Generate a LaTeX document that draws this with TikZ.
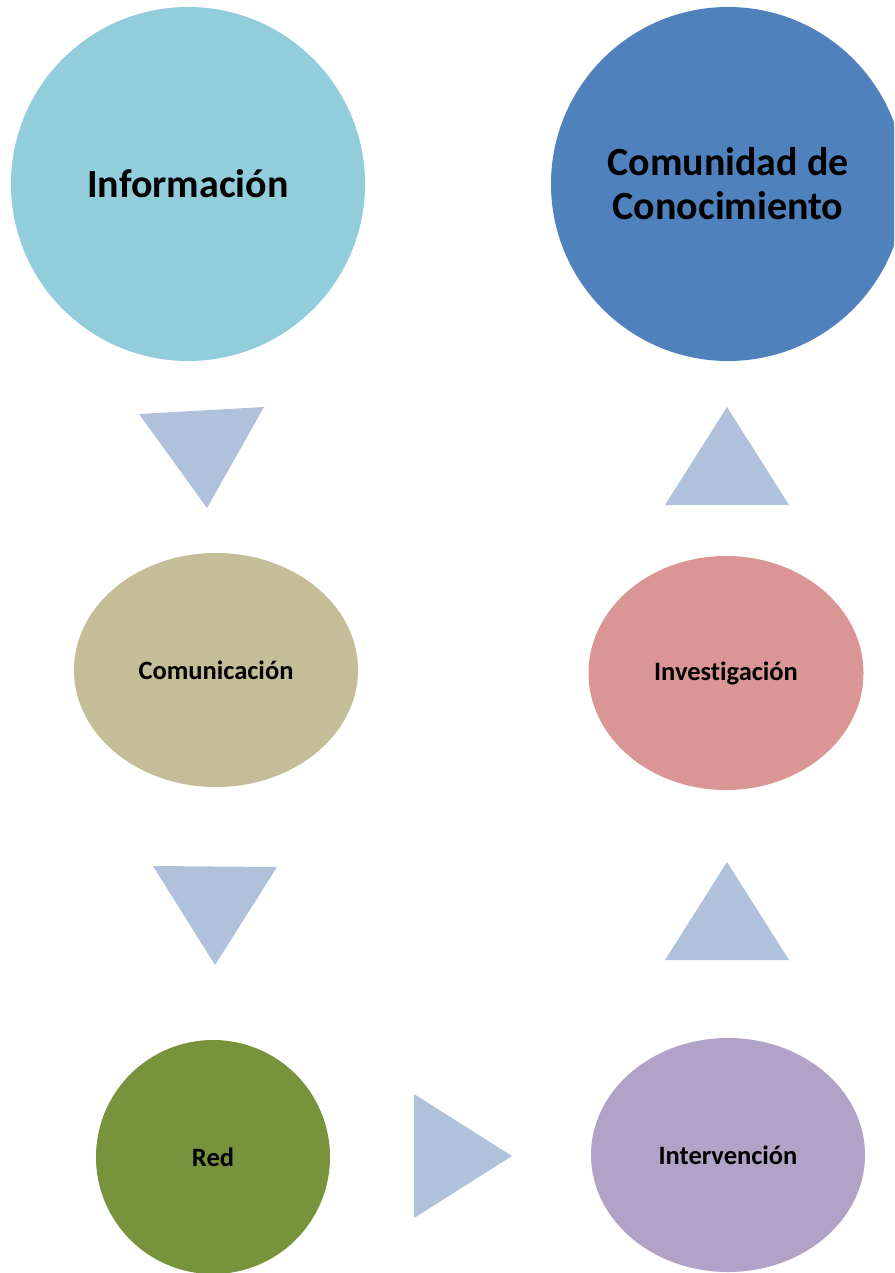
\documentclass[tikz,border=0pt]{standalone}
\usepackage{fontspec}
\setmainfont[Ligatures={NoCommon}]{Carlito}
\usetikzlibrary{shapes.geometric}
\definecolor{cInfo}{HTML}{92CDDC}
\definecolor{cCom}{HTML}{4F81BD}
\definecolor{cComu}{HTML}{C4BD97}
\definecolor{cInv}{HTML}{D99694}
\definecolor{cRed}{HTML}{77933C}
\definecolor{cInt}{HTML}{B2A2C7}
\definecolor{cTri}{HTML}{B0C1DC}
\tikzset{
  blob/.style={ellipse, inner sep=0pt, draw=none, align=center, font=\bfseries},
  bigtxt/.style={font=\fontsize{40}{44}\selectfont\bfseries},
  smalltxt/.style={font=\fontsize{26.5}{30}\selectfont\bfseries},
  tri/.style={fill=cTri}
}
\begin{document}
\begin{tikzpicture}[x=1pt,y=-1pt]
\useasboundingbox (0,0) rectangle (894,1273);
\clip (0,0) rectangle (894,1273);
\node[blob, fill=cInfo, minimum width=354pt, minimum height=354pt, bigtxt] (info) at (188,184) {Información};
\node[blob, fill=cCom, minimum width=354pt, minimum height=354pt, bigtxt] (comunidad) at (728,184) {Comunidad de\\Conocimiento};
\node[blob, fill=cComu, minimum width=284pt, minimum height=234pt, smalltxt] (comunic) at (216,670) {Comunicación};
\node[blob, fill=cInv, minimum width=275pt, minimum height=234pt, smalltxt] (invest) at (726,673) {Investigación};
\node[blob, fill=cRed, minimum width=234pt, minimum height=234pt, smalltxt] (red) at (213,1157) {Red};
\node[blob, fill=cInt, minimum width=274pt, minimum height=234pt, smalltxt] (interv) at (728,1155) {Intervención};
\fill[tri] (139,414) -- (264,407) -- (207,508) -- cycle;
\fill[tri] (153,866) -- (277,867) -- (215,965) -- cycle;
\fill[tri] (727,407) -- (665,505) -- (789,505) -- cycle;
\fill[tri] (727,862) -- (665,960) -- (789,960) -- cycle;
\fill[tri] (414,1094) -- (512,1156) -- (414,1218) -- cycle;
\end{tikzpicture}
\end{document}
